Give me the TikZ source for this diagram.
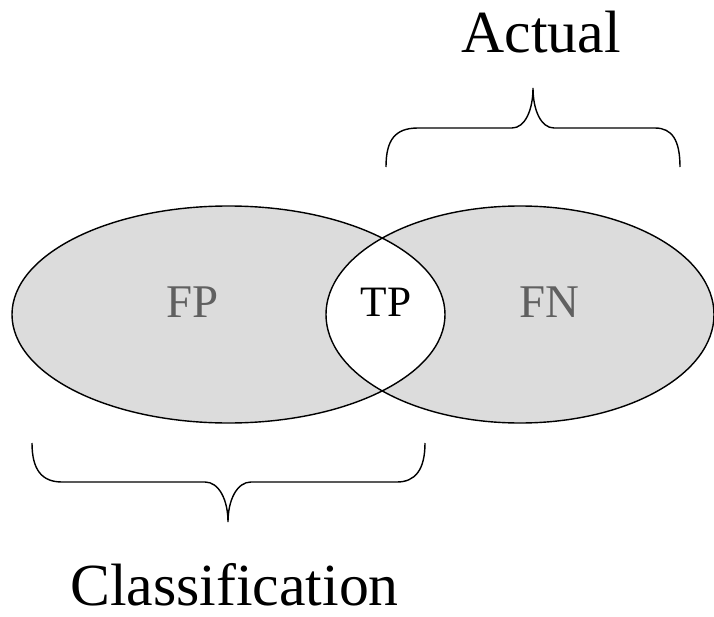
\documentclass[tikz,border=0pt]{standalone}
\usepackage{fontspec}
\setmainfont{Liberation Serif}
\definecolor{setgray}{HTML}{DCDCDC}
\definecolor{labelgray}{HTML}{606060}
\begin{document}
\begin{tikzpicture}[x=0.03cm, y=-0.03cm, line width=1.2pt,
    setlabel/.style={anchor=base, text=labelgray, font=\fontsize{40}{40}\selectfont},
    bigword/.style={anchor=base, font=\fontsize{51}{51}\selectfont}]
        \useasboundingbox (0,0) rectangle (714,617);

        \fill[setgray] (228.5,314.5) ellipse [x radius=6.495cm, y radius=3.255cm];
        \fill[setgray] (520,314.5) ellipse [x radius=5.82cm, y radius=3.255cm];
        \begin{scope}
            \clip (228.5,314.5) ellipse [x radius=6.495cm, y radius=3.255cm];
            \fill[white] (520,314.5) ellipse [x radius=5.82cm, y radius=3.255cm];
        \end{scope}
        \draw (228.5,314.5) ellipse [x radius=6.495cm, y radius=3.255cm];
        \draw (520,314.5) ellipse [x radius=5.82cm, y radius=3.255cm];

        \node[setlabel] (FP) at (193, 317) {FP};
        \node[setlabel, text=black, font=\fontsize{37}{37}\selectfont] (TP) at (386, 316) {TP};
        \node[setlabel] (FN) at (549, 317) {FN};

        \draw (386,167) .. controls (386,140) and (395,128) .. (418,128) -- (512,128)
              .. controls (525,128) and (533,110) .. (533,88)
              .. controls (533,110) and (541,128) .. (554,128) -- (655,128)
              .. controls (672,128) and (680,140) .. (680,167);
        \node[bigword] (actual) at (541, 53) {Actual};

        \draw (32,443) .. controls (32,470) and (42,482) .. (62,482) -- (205,482)
              .. controls (219,482) and (228,500) .. (228,522)
              .. controls (228,500) and (237,482) .. (251,482) -- (397,482)
              .. controls (415,482) and (425,470) .. (425,443);
        \node[bigword] (classification) at (234.5, 605) {Classification};
\end{tikzpicture}
\end{document}
